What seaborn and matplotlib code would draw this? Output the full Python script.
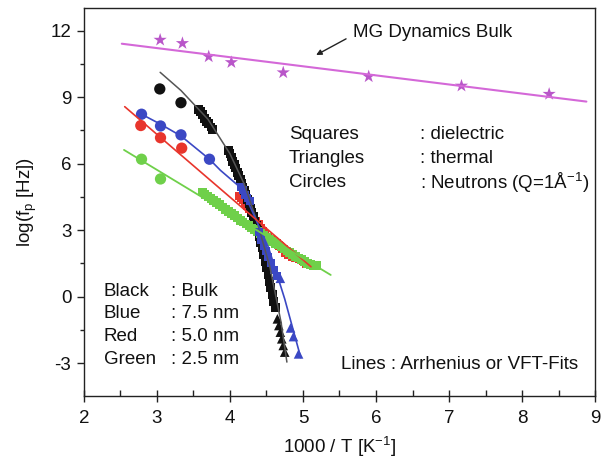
import numpy as np
import pandas as pd
import matplotlib
matplotlib.use("Agg")
import matplotlib.pyplot as plt
import seaborn as sns
from matplotlib.ticker import MultipleLocator

# ---------------- data ----------------
# MG dynamics bulk (stars)
star_x = [3.045, 3.35, 3.71, 4.02, 4.73, 5.90, 7.17, 8.37]
star_y = [11.58, 11.43, 10.83, 10.57, 10.11, 9.93, 9.51, 9.14]
star_line_x = [2.52, 8.88]
star_line_y = [11.41, 8.80]

# Bulk (black)
black_circ_x = [3.04, 3.33]
black_circ_y = [9.37, 8.75]
black_sq_x = [3.57, 3.60, 3.62, 3.65, 3.68, 3.71, 3.74, 3.76,
              3.98, 4.00, 4.02, 4.04, 4.06, 4.08, 4.10, 4.12, 4.14, 4.16, 4.18, 4.20,
              4.22, 4.24, 4.26, 4.28, 4.30, 4.32, 4.34, 4.36, 4.38, 4.40, 4.42, 4.44,
              4.46, 4.48, 4.50, 4.52, 4.54, 4.56, 4.58, 4.60, 4.62]
black_sq_y = [8.45, 8.35, 8.20, 8.05, 7.90, 7.80, 7.65, 7.55,
              6.60, 6.45, 6.30, 6.10, 5.95, 5.80, 5.60, 5.45, 5.30, 5.10, 4.95, 4.80,
              4.60, 4.40, 4.20, 4.00, 3.80, 3.60, 3.40, 3.20, 3.00, 2.70, 2.45, 2.20,
              1.90, 1.60, 1.30, 1.00, 0.70, 0.40, 0.10, -0.20, -0.50]
black_tri_x = [4.65, 4.67, 4.69, 4.71, 4.73, 4.75]
black_tri_y = [-1.00, -1.30, -1.60, -1.90, -2.20, -2.50]
black_line_x = [3.045, 3.33, 3.70, 4.00, 4.20, 4.38, 4.55, 4.70, 4.78]
black_line_y = [10.12, 9.30, 8.00, 6.45, 5.05, 3.30, 1.30, -1.15, -2.95]

# 7.5 nm (blue)
blue_circ_x = [2.79, 3.05, 3.33, 3.72]
blue_circ_y = [8.23, 7.70, 7.30, 6.20]
blue_sq_x = [4.15, 4.18, 4.21, 4.24, 4.27, 4.40, 4.43, 4.46, 4.49, 4.52, 4.56, 4.60, 4.64]
blue_sq_y = [4.95, 4.80, 4.60, 4.45, 4.30, 2.90, 2.55, 2.30, 2.05, 1.80, 1.50, 1.20, 0.95]
blue_tri_x = [4.69, 4.83, 4.87, 4.94]
blue_tri_y = [0.83, -1.41, -1.80, -2.58]
blue_line_x = [2.79, 3.05, 3.33, 3.72, 3.87, 4.17, 4.53, 4.75, 4.97]
blue_line_y = [8.23, 7.78, 7.25, 6.20, 5.70, 4.85, 2.20, -0.10, -2.75]

# 5.0 nm (red)
red_circ_x = [2.78, 3.05, 3.34]
red_circ_y = [7.72, 7.17, 6.70]
red_sq_x = [4.12, 4.15, 4.18, 4.21, 4.24, 4.27, 4.30, 4.33, 4.36, 4.39, 4.42, 4.45,
            4.48, 4.52, 4.56, 4.60, 4.64, 4.68, 4.72, 4.76, 4.80, 4.85, 4.90, 4.95,
            5.00, 5.05, 5.10]
red_sq_y = [4.55, 4.45, 4.35, 4.25, 4.10, 3.95, 3.80, 3.60, 3.40, 3.25, 3.10, 2.95,
            2.80, 2.70, 2.60, 2.50, 2.40, 2.30, 2.15, 2.00, 1.90, 1.80, 1.75, 1.70,
            1.60, 1.50, 1.42]
red_line_x = [2.56, 5.11]
red_line_y = [8.57, 1.35]

# 2.5 nm (green)
green_circ_x = [2.79, 3.05]
green_circ_y = [6.20, 5.31]
green_sq_x = [3.62, 3.66, 3.70, 3.74, 3.78, 3.82, 3.86, 3.90, 3.94, 3.98, 4.02, 4.06,
              4.10, 4.14, 4.18, 4.22, 4.26, 4.30, 4.34, 4.38, 4.42, 4.46, 4.50, 4.54,
              4.58, 4.62, 4.66, 4.70, 4.74, 4.78, 4.82, 4.86, 4.90, 4.94, 4.98, 5.02,
              5.06, 5.10, 5.14, 5.18]
green_sq_y = [4.72, 4.62, 4.52, 4.42, 4.33, 4.25, 4.15, 4.05, 3.95, 3.85, 3.75, 3.65,
              3.55, 3.45, 3.37, 3.28, 3.20, 3.10, 3.02, 2.93, 2.85, 2.76, 2.67, 2.58,
              2.50, 2.41, 2.33, 2.24, 2.15, 2.06, 1.98, 1.90, 1.82, 1.74, 1.66, 1.58,
              1.50, 1.45, 1.42, 1.40]
green_line_x = [2.55, 5.38]
green_line_y = [6.62, 0.98]

x_ticks = [2, 3, 4, 5, 6, 7, 8, 9]
y_ticks = [-3, 0, 3, 6, 9, 12]

# ---------------- style ----------------
sns.set_theme(style="ticks")
plt.rcParams['font.family'] = ['Liberation Sans', 'DejaVu Sans']
plt.rcParams['mathtext.fontset'] = 'custom'
plt.rcParams['mathtext.rm'] = 'Liberation Sans'
plt.rcParams['mathtext.it'] = 'Liberation Sans:italic'

C_BLACK = "#111111"
C_BLACK_LINE = "#555555"
C_BLUE = "#3b48c4"
C_RED = "#e8352c"
C_GREEN = "#6fd04a"
C_MAG = "#b956c9"
C_MAG_LINE = "#d468d8"

fig = plt.figure(figsize=(6.03, 4.72), dpi=100)
ax = fig.add_axes([0.139, 0.161, 0.848, 0.822])


def scat(x, y, color, marker, size, z=3):
    df = pd.DataFrame({"x": x, "y": y})
    sns.scatterplot(data=df, x="x", y="y", ax=ax, color=color, marker=marker,
                    s=size, edgecolor="none", linewidth=0, zorder=z, legend=False)


def line(x, y, color, lw=1.3, z=4):
    df = pd.DataFrame({"x": x, "y": y})
    sns.lineplot(data=df, x="x", y="y", ax=ax, color=color, linewidth=lw,
                 sort=False, estimator=None, zorder=z, legend=False)


# markers
scat(black_sq_x, black_sq_y, C_BLACK, "s", 40)
scat(black_tri_x, black_tri_y, C_BLACK, "^", 48)
scat(black_circ_x, black_circ_y, C_BLACK, "o", 66)
scat(green_sq_x, green_sq_y, C_GREEN, "s", 40)
scat(red_sq_x, red_sq_y, C_RED, "s", 36, z=2.9)
scat(blue_sq_x, blue_sq_y, C_BLUE, "s", 32)
scat(blue_tri_x, blue_tri_y, C_BLUE, "^", 48)
scat(blue_circ_x, blue_circ_y, C_BLUE, "o", 66)
scat(red_circ_x, red_circ_y, C_RED, "o", 66)
scat(green_circ_x, green_circ_y, C_GREEN, "o", 66)
scat(star_x, star_y, C_MAG, "*", 100)

# fit lines
line(star_line_x, star_line_y, C_MAG_LINE, 1.5)
line(black_line_x, black_line_y, C_BLACK_LINE, 1.1)
line(blue_line_x, blue_line_y, C_BLUE, 1.2)
line(red_line_x, red_line_y, C_RED, 1.2)
line(green_line_x, green_line_y, C_GREEN, 1.3)

# axes
ax.set_xlim(2, 9)
ax.set_ylim(-4.48, 13.02)
ax.set_xticks(x_ticks)
ax.set_yticks(y_ticks)
ax.set_xticklabels([str(v) for v in x_ticks])
ax.set_yticklabels([str(v) for v in y_ticks])
ax.xaxis.set_minor_locator(MultipleLocator(0.5))
ax.yaxis.set_minor_locator(MultipleLocator(1.5))
ax.tick_params(axis="x", which="major", direction="inout", length=8, width=1,
               labelsize=13.5, pad=6, colors="#222222", labelcolor="#111111")
ax.tick_params(axis="x", which="minor", direction="in", length=4, width=1, colors="#222222")
ax.tick_params(axis="y", which="major", direction="out", length=5, width=1,
               labelsize=13.5, pad=4, colors="#222222", labelcolor="#111111")
ax.tick_params(axis="y", which="minor", direction="out", length=3, width=1, colors="#222222")
for sp in ax.spines.values():
    sp.set_linewidth(1.0)
    sp.set_color("#222222")

ax.set_xlabel("1000 / T [K$^{\\mathregular{-1}}$]", fontsize=13.5, labelpad=6, color="#111111")
ax.set_ylabel("log(f$_{\\mathregular{p}}$ [Hz])", fontsize=13.5, labelpad=8, color="#111111")

# annotations
fs = 13.5
ax.text(5.69, 11.91, "MG Dynamics Bulk", fontsize=fs, ha="left", va="center", color="#111111")
ax.annotate("", xy=(5.18, 10.9), xytext=(5.59, 11.63),
            arrowprops=dict(arrowstyle="-|>", color="#222222", lw=1.0,
                            mutation_scale=8, shrinkA=0, shrinkB=0))

for label, desc, yy in [("Squares", ": dielectric", 7.3),
                        ("Triangles", ": thermal", 6.24),
                        ("Circles", ": Neutrons (Q=1Å$^{\\mathregular{-1}}$)", 5.14)]:
    ax.text(4.81, yy, label, fontsize=fs, ha="left", va="center", color="#111111")
    ax.text(6.60, yy, desc, fontsize=fs, ha="left", va="center", color="#111111")

for label, desc, yy in [("Black", ": Bulk", 0.23),
                        ("Blue", ": 7.5 nm", -0.75),
                        ("Red", ": 5.0 nm", -1.80),
                        ("Green", ": 2.5 nm", -2.82)]:
    ax.text(2.27, yy, label, fontsize=fs, ha="left", va="center", color="#111111")
    ax.text(3.19, yy, desc, fontsize=fs, ha="left", va="center", color="#111111")

ax.text(5.52, -3.08, "Lines : Arrhenius or VFT-Fits", fontsize=fs, ha="left",
        va="center", color="#111111")

fig.savefig("out.png", dpi=100)
